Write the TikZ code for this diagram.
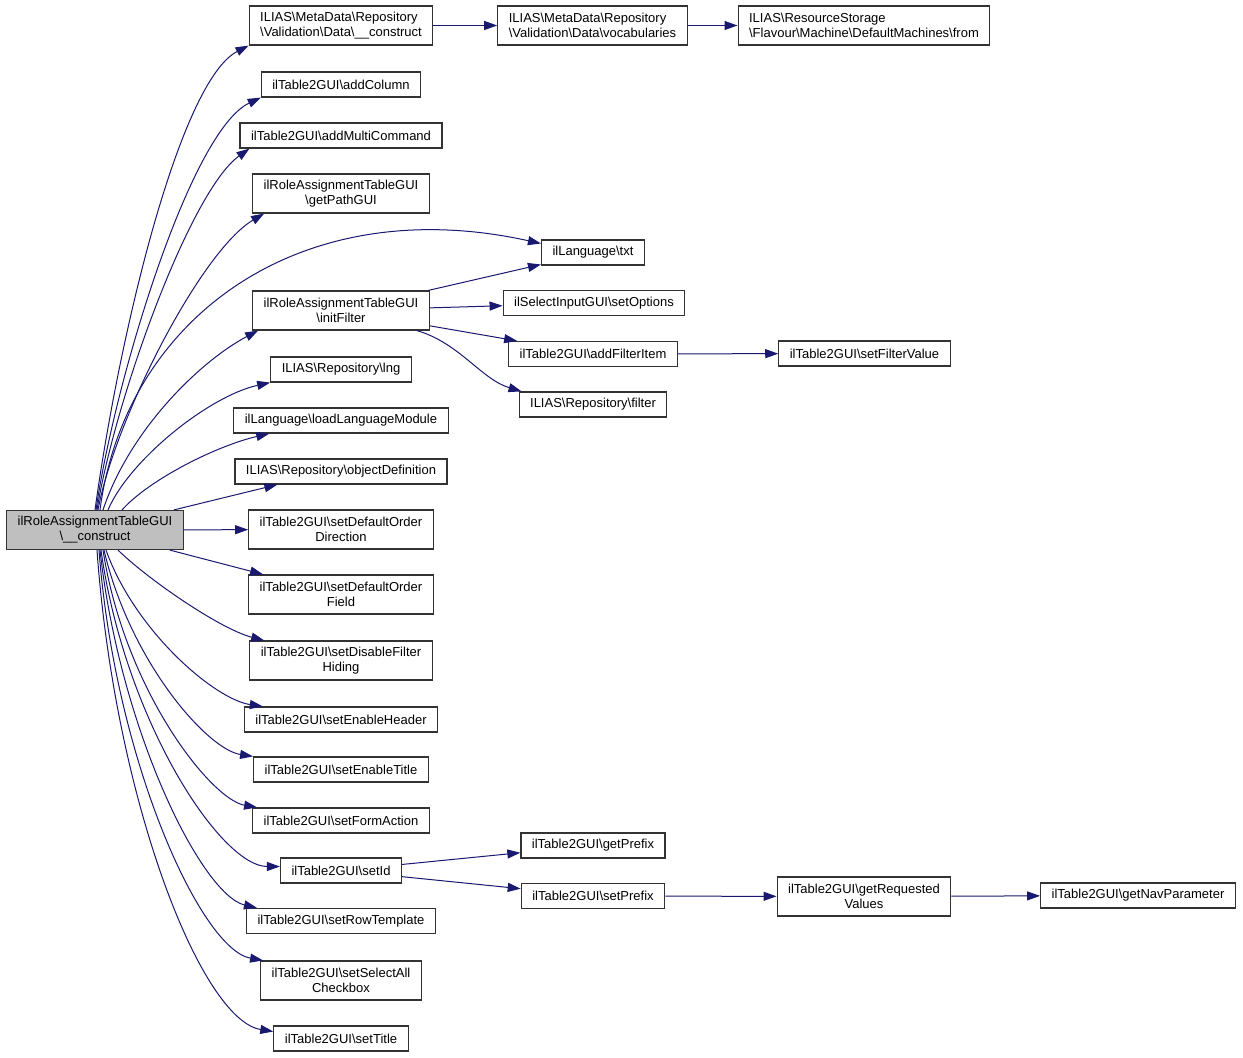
\documentclass[tikz,border=0pt]{standalone}
\usepackage{fontspec}
\setmainfont{Liberation Sans}
\usepackage{tikz}
\usetikzlibrary{arrows.meta, positioning}
\definecolor{callblue}{HTML}{191970}
\definecolor{maingray}{HTML}{BFBFBF}
\tikzset{
    fn/.style={draw=black!80, line width=1.2pt, rectangle, fill=white,
        inner xsep=11pt, inner ysep=2pt, minimum height=25pt, align=center,
        font=\fontsize{13}{15}\selectfont},
    fnn/.style={fn, minimum height=39pt},
    fnl/.style={fnn, align=left},
    call/.style={draw=callblue, line width=1pt, -{Triangle[length=13pt,width=9pt]}}
}
\begin{document}
\begin{tikzpicture}[x=1pt, y=-1pt]
    \fill[white] (0, 0) rectangle (1243, 1058);
    \useasboundingbox (0, 0) rectangle (1243, 1058);
    % caller
    \node[fnn, fill=maingray] (main) at (95, 530) {ilRoleAssignmentTableGUI\\\textbackslash\_\_construct};
    % direct callees
    \node[fnl] (mdc) at (341, 25.5) {ILIAS\textbackslash MetaData\textbackslash Repository\\\textbackslash Validation\textbackslash Data\textbackslash\_\_construct};
    \node[fn] (addcol) at (341, 84.5) {ilTable2GUI\textbackslash addColumn};
    \node[fn] (addmulti) at (341, 135.5) {ilTable2GUI\textbackslash addMultiCommand};
    \node[fnn] (getpath) at (341, 193.5) {ilRoleAssignmentTableGUI\\\textbackslash getPathGUI};
    \node[fnn] (initf) at (341, 310.5) {ilRoleAssignmentTableGUI\\\textbackslash initFilter};
    \node[fn] (lng) at (341, 369.5) {ILIAS\textbackslash Repository\textbackslash lng};
    \node[fn] (loadlm) at (341, 420.5) {ilLanguage\textbackslash loadLanguageModule};
    \node[fn] (objdef) at (341, 471.5) {ILIAS\textbackslash Repository\textbackslash objectDefinition};
    \node[fnn] (sdod) at (341, 529.5) {ilTable2GUI\textbackslash setDefaultOrder\\Direction};
    \node[fnn] (sdof) at (341, 594.5) {ilTable2GUI\textbackslash setDefaultOrder\\Field};
    \node[fnn] (sdfh) at (341, 660.5) {ilTable2GUI\textbackslash setDisableFilter\\Hiding};
    \node[fn] (seh) at (341, 719.5) {ilTable2GUI\textbackslash setEnableHeader};
    \node[fn] (set) at (341, 769.5) {ilTable2GUI\textbackslash setEnableTitle};
    \node[fn] (sfa) at (341, 820.5) {ilTable2GUI\textbackslash setFormAction};
    \node[fn] (sid) at (341, 870.5) {ilTable2GUI\textbackslash setId};
    \node[fn] (srt) at (341, 921) {ilTable2GUI\textbackslash setRowTemplate};
    \node[fnn] (ssac) at (341, 980.5) {ilTable2GUI\textbackslash setSelectAll\\Checkbox};
    \node[fn] (stitle) at (341, 1038.5) {ilTable2GUI\textbackslash setTitle};
    % deeper callees
    \node[fnl] (voc) at (592.5, 25.5) {ILIAS\textbackslash MetaData\textbackslash Repository\\\textbackslash Validation\textbackslash Data\textbackslash vocabularies};
    \node[fnl] (dmfrom) at (864, 25.5) {ILIAS\textbackslash ResourceStorage\\\textbackslash Flavour\textbackslash Machine\textbackslash DefaultMachines\textbackslash from};
    \node[fn] (txt) at (593, 252.5) {ilLanguage\textbackslash txt};
    \node[fn] (setopt) at (594, 303) {ilSelectInputGUI\textbackslash setOptions};
    \node[fn] (addfi) at (593, 354) {ilTable2GUI\textbackslash addFilterItem};
    \node[fn] (filt) at (593, 404.5) {ILIAS\textbackslash Repository\textbackslash filter};
    \node[fn] (setfv) at (864.5, 353.5) {ilTable2GUI\textbackslash setFilterValue};
    \node[fn] (getpre) at (593, 845.5) {ilTable2GUI\textbackslash getPrefix};
    \node[fn] (setpre) at (593, 896) {ilTable2GUI\textbackslash setPrefix};
    \node[fnn] (getreq) at (864, 896.5) {ilTable2GUI\textbackslash getRequested\\Values};
    \node[fn] (getnav) at (1138, 895.5) {ilTable2GUI\textbackslash getNavParameter};
    % calls going up
    \draw[call] (main.north) .. controls +(25,-181) and +(-68,35) .. (mdc.south west);
    \draw[call] ([xshift=1pt]main.north) .. controls +(19,-131) and +(-70,33) .. (addcol.south west);
    \draw[call] ([xshift=2pt]main.north) .. controls +(18,-111) and +(-59,42) .. ([xshift=10pt]addmulti.south west);
    \draw[call] ([xshift=3pt]main.north) .. controls +(17,-91) and +(-63,37) .. ([xshift=12pt]getpath.south west);
    \draw[call] ([xshift=5pt]main.north) .. controls +(25,-191) and +(-242,-53.5) .. ([yshift=9pt]txt.west);
    \draw[call] ([xshift=8pt]main.north) .. controls +(27,-81) and +(-57,30) .. ([xshift=6pt]initf.south west);
    \draw[call] ([xshift=13pt]main.north) .. controls +(22,-51) and +(-60,13) .. (lng.south west);
    \draw[call] ([xshift=27pt]main.north) .. controls +(28,-31) and +(-52,12) .. ([xshift=36pt]loadlm.south west);
    \draw[call] ([xshift=-10pt]main.north east) -- ([xshift=43pt]objdef.south west);
    \draw[call] (main) -- (sdod);
    \draw[call] ([xshift=-14pt]main.south east) -- ([xshift=15pt]sdof.north west);
    % calls going down
    \draw[call] ([xshift=23pt]main.south) .. controls +(32,31) and +(-43,-11) .. ([xshift=15pt]sdfh.north west);
    \draw[call] ([xshift=11pt]main.south) .. controls +(29,81) and +(-48,-7) .. ([xshift=19pt]seh.north west);
    \draw[call] ([xshift=9pt]main.south) .. controls +(26,111) and +(-46,-7) .. (set.north west);
    \draw[call] ([xshift=8pt]main.south) .. controls +(22,141) and +(-46,-8) .. ([xshift=5pt]sfa.north west);
    \draw[call] ([xshift=6pt]main.south) .. controls +(24,171) and +(-59,0) .. ([yshift=4pt]sid.west);
    \draw[call] ([xshift=5pt]main.south) .. controls +(20,181) and +(-55,-13) .. ([xshift=11pt]srt.north west);
    \draw[call] ([xshift=4pt]main.south) .. controls +(16,211) and +(-62,-11) .. ([xshift=3pt]ssac.north west);
    \draw[call] ([xshift=2pt]main.south) .. controls +(18,251) and +(-72,-11.5) .. ([yshift=7pt]stitle.west);
    % second level
    \draw
    (mdc) edge[call] (voc)
    (voc) edge[call] (dmfrom)
    (initf) edge[call] (txt)
    (initf) edge[call] (setopt)
    (initf) edge[call] (addfi)
    (addfi) edge[call] (setfv)
    (sid) edge[call] (getpre)
    (sid) edge[call] (setpre)
    (setpre) edge[call] (getreq)
    (getreq) edge[call] (getnav);
    \draw[call] ([xshift=-13pt]initf.south east) .. controls +(42,12) and +(-40,-12) .. ([xshift=3pt]filt.north west);
\end{tikzpicture}
\end{document}
